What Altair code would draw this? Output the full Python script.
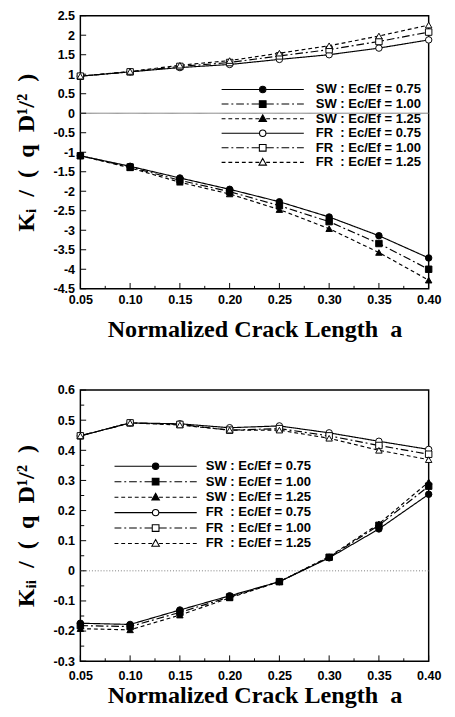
import altair as alt
import pandas as pd

# ---------------- data ----------------
crack_length = [0.05, 0.10, 0.15, 0.20, 0.25, 0.30, 0.35, 0.40]

series_labels = [
    "SW : Ec/Ef = 0.75",
    "SW : Ec/Ef = 1.00",
    "SW : Ec/Ef = 1.25",
    "FR\u00a0 : Ec/Ef = 0.75",
    "FR\u00a0 : Ec/Ef = 1.00",
    "FR\u00a0 : Ec/Ef = 1.25",
]

# K_I / (q D^1/2)
ki_sw_075 = [-1.09, -1.36, -1.66, -1.95, -2.27, -2.66, -3.14, -3.71]
ki_sw_100 = [-1.09, -1.38, -1.72, -2.01, -2.37, -2.78, -3.34, -4.00]
ki_sw_125 = [-1.09, -1.40, -1.77, -2.07, -2.47, -2.96, -3.57, -4.28]
ki_fr_075 = [0.95, 1.06, 1.17, 1.25, 1.38, 1.50, 1.67, 1.88]
ki_fr_100 = [0.95, 1.06, 1.20, 1.30, 1.47, 1.63, 1.84, 2.08]
ki_fr_125 = [0.95, 1.07, 1.23, 1.35, 1.54, 1.73, 1.98, 2.26]

# K_II / (q D^1/2)
kii_sw_075 = [-0.174, -0.178, -0.130, -0.083, -0.036, 0.043, 0.139, 0.254]
kii_sw_100 = [-0.182, -0.185, -0.138, -0.087, -0.036, 0.045, 0.151, 0.281]
kii_sw_125 = [-0.192, -0.196, -0.147, -0.090, -0.036, 0.047, 0.156, 0.295]
kii_fr_075 = [0.448, 0.491, 0.488, 0.475, 0.481, 0.458, 0.430, 0.403]
kii_fr_100 = [0.448, 0.491, 0.486, 0.467, 0.472, 0.448, 0.416, 0.387]
kii_fr_125 = [0.448, 0.491, 0.484, 0.467, 0.467, 0.440, 0.400, 0.369]

ki_ticks = [2.5, 2, 1.5, 1, 0.5, 0, -0.5, -1, -1.5, -2, -2.5, -3, -3.5, -4, -4.5]
kii_ticks = [0.6, 0.5, 0.4, 0.3, 0.2, 0.1, 0, -0.1, -0.2, -0.3]
kii_minor_ticks = [0.55, 0.45, 0.35, 0.25, 0.15, 0.05, -0.05, -0.15, -0.25]
x_minor_ticks = [0.075, 0.125, 0.175, 0.225, 0.275, 0.325, 0.375]

x_title = "Normalized Crack Length\u00a0\u00a0a"
ki_title = "K\u1d62\u00a0 / \u00a0( \u00a0q\u00a0 D\u00b9/\u00b2\u00a0 )"
kii_title = "K\u1d62\u1d62\u00a0 / \u00a0( \u00a0q\u00a0 D\u00b9/\u00b2\u00a0 )"


def make_df(series_values):
    rows = []
    for lab, vals in zip(series_labels, series_values):
        for a, v in zip(crack_length, vals):
            rows.append({"a": a, "K": v, "series": lab})
    return pd.DataFrame(rows)


ki_df = make_df([ki_sw_075, ki_sw_100, ki_sw_125, ki_fr_075, ki_fr_100, ki_fr_125])
kii_df = make_df([kii_sw_075, kii_sw_100, kii_sw_125, kii_fr_075, kii_fr_100, kii_fr_125])

# ---------------- styles ----------------
dash_range = [[1, 0], [8, 3, 2, 3], [4, 3]] * 2
shape_range = ["circle", "square", "triangle-up"] * 2
fill_range = ["black"] * 3 + ["white"] * 3

UNIT = 6.0      # px per path unit for legend symbol size 144
HALF = 7.1      # half-length of legend line, in units


def fmt(v):
    return ("%.3f" % v).rstrip("0").rstrip(".")


def dashed(a, b, pattern_px):
    pat = [p / UNIT for p in pattern_px]
    out = []
    pos = a
    i = 0
    while pos < b - 1e-6:
        ln = pat[i % len(pat)]
        end = min(pos + ln, b)
        if i % 2 == 0:
            out.append("M%s,0L%s,0" % (fmt(pos), fmt(end)))
        pos = end
        i += 1
    return "".join(out)


def marker_path(kind):
    if kind == "circle":
        r = 0.55
        return ("M-%s,0A%s,%s 0 1,0 %s,0A%s,%s 0 1,0 -%s,0Z" % ((fmt(r),) * 7)), r
    if kind == "square":
        s = 0.58
        return ("M-%s,-%sL%s,-%sL%s,%sL-%s,%sZ" % ((fmt(s),) * 8)), s
    return "M0,-0.68L0.65,0.48L-0.65,0.48Z", 0.6


legend_paths = []
for dash, kind in zip(dash_range, shape_range):
    mp, g = marker_path(kind)
    if dash == [1, 0]:
        lines = "M-%s,0L-%s,0M%s,0L%s,0" % (fmt(HALF), fmt(g), fmt(g), fmt(HALF))
    else:
        right = dashed(g, HALF, dash)
        left_parts = []
        for seg in right.split("M")[1:]:
            p0, p1 = seg.split("L")
            x0 = float(p0.split(",")[0])
            x1 = float(p1.split(",")[0])
            left_parts.append("M-%s,0L-%s,0" % (fmt(x1), fmt(x0)))
        lines = "".join(left_parts) + right
    legend_paths.append(lines + mp)


def panel(df, ydom, yticks, yminor, ytitle, zero_dash, leg_x, leg_y, row_pad,
          label_off, height, label_pad_x, title_pad_x):
    xenc = alt.X(
        "a:Q",
        scale=alt.Scale(domain=[0.05, 0.40], nice=False, zero=False),
        axis=alt.Axis(values=crack_length, format=".2f", title=x_title,
                      labelFlush=False, labelOverlap=False,
                      labelPadding=label_pad_x, titlePadding=title_pad_x),
    )
    yaxis = alt.Axis(values=yticks,
                     labelExpr="replace(format(datum.value, '.1~f'), '\u2212', '-')",
                     labelFlush=False, labelOverlap=False,
                     title=ytitle, labelPadding=6, titlePadding=15)
    yscale = alt.Scale(domain=ydom, nice=False, zero=False)
    yenc = alt.Y("K:Q", scale=yscale, axis=yaxis)

    base = alt.Chart(df)
    zero = alt.Chart(pd.DataFrame({"K": [0]})).mark_rule(
        color="#777777", strokeWidth=1, strokeDash=zero_dash
    ).encode(y=yenc)
    # inward tick marks along the left and bottom frame
    ytick_major = alt.Chart(pd.DataFrame({"K": yticks})).mark_rule(
        color="black", strokeWidth=1
    ).encode(y=yenc, x=alt.value(0), x2=alt.value(6))
    ytick_minor = alt.Chart(pd.DataFrame({"K": yminor})).mark_rule(
        color="black", strokeWidth=1
    ).encode(y=yenc, x=alt.value(0), x2=alt.value(4))
    xtick_major = alt.Chart(pd.DataFrame({"a": crack_length})).mark_rule(
        color="black", strokeWidth=1
    ).encode(x=xenc, y=alt.value(height), y2=alt.value(height - 6))
    xtick_minor = alt.Chart(pd.DataFrame({"a": x_minor_ticks})).mark_rule(
        color="black", strokeWidth=1
    ).encode(x=xenc, y=alt.value(height), y2=alt.value(height - 3))

    lines = base.mark_line(color="black", strokeWidth=1.2).encode(
        x=xenc, y=yenc,
        strokeDash=alt.StrokeDash("series:N",
                                  scale=alt.Scale(domain=series_labels, range=dash_range),
                                  legend=None),
    )
    pts = base.mark_point(stroke="black", strokeWidth=1, size=45, opacity=1).encode(
        x=xenc, y=yenc,
        shape=alt.Shape("series:N", scale=alt.Scale(domain=series_labels, range=shape_range),
                        legend=None),
        fill=alt.Fill("series:N", scale=alt.Scale(domain=series_labels, range=fill_range),
                      legend=None),
    )
    leg_kw = dict(title=None, orient="none", legendX=leg_x, legendY=leg_y,
                  symbolSize=144, symbolStrokeWidth=1.1, symbolOffset=0,
                  labelFont="Liberation Sans", labelFontWeight="bold",
                  labelFontSize=13.5, labelColor="black", labelOffset=label_off,
                  rowPadding=row_pad, padding=0, labelLimit=300)
    leg = base.transform_filter("false").mark_point(
        stroke="black", strokeWidth=1.1, size=144, opacity=1
    ).encode(
        x=xenc, y=yenc,
        shape=alt.Shape("series:N", scale=alt.Scale(domain=series_labels, range=legend_paths),
                        legend=alt.Legend(**leg_kw)),
        fill=alt.Fill("series:N", scale=alt.Scale(domain=series_labels, range=fill_range),
                      legend=alt.Legend(**leg_kw)),
    )
    return alt.layer(zero, ytick_major, ytick_minor, xtick_major, xtick_minor,
                     lines, pts, leg).resolve_scale(
        shape="independent", fill="independent"
    ).properties(width=361, height=height)


top = panel(ki_df, [-4.5, 2.5], ki_ticks, [], ki_title, [1, 0],
            182, 69.5, 1.1, 48, 283, 5, 11)
bottom = panel(kii_df, [-0.3, 0.6], kii_ticks, kii_minor_ticks, kii_title, [1, 2],
               71, 72, 2.0, 45, 281, 9, 1)

chart = alt.vconcat(top, bottom, spacing=43).resolve_scale(
    shape="independent", fill="independent", strokeDash="independent"
).resolve_legend(shape="independent", fill="independent").properties(
    padding={"left": 5, "top": -12, "right": 5, "bottom": 0}
).configure_view(stroke="black", strokeWidth=1.5).configure_axis(
    grid=False, domain=False, ticks=False, labelOverlap=False,
    labelFont="Liberation Sans", labelFontWeight="bold", labelFontSize=13,
    labelColor="black",
    titleFont="Liberation Serif", titleFontWeight="bold", titleFontSize=25,
    titleColor="black",
)

chart.save("out.html", embed_options={"renderer": "svg", "actions": False})
